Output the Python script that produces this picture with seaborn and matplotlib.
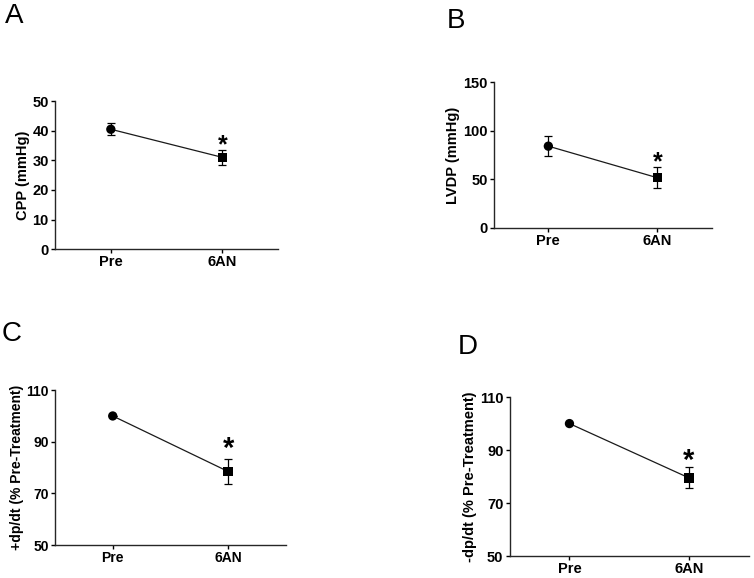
import numpy as np
import pandas as pd
import matplotlib
matplotlib.use('Agg')
import matplotlib.pyplot as plt
import seaborn as sns

# Data

groups = ['Pre', '6AN']

cpp_mean = [40.5, 31.0]
cpp_err = [2.0, 2.5]

lvdp_mean = [84.0, 51.5]
lvdp_err = [10.5, 11.0]

pos_dpdt_mean = [100.0, 78.5]
pos_dpdt_err = [0.0, 5.0]

neg_dpdt_mean = [100.0, 79.5]
neg_dpdt_err = [0.0, 4.0]

# Style

sns.set_style('ticks')
plt.rcParams['font.family'] = ['Liberation Sans', 'DejaVu Sans']
plt.rcParams['axes.linewidth'] = 1.0
plt.rcParams['text.color'] = 'black'
plt.rcParams['axes.labelcolor'] = 'black'

fig = plt.figure(figsize=(7.54, 5.78), dpi=100)

panels = [
    # letter, mean, err, ylabel, yticks, axes rect, letter pos, font size, star size, star offset
    ('A', cpp_mean, cpp_err, 'CPP (mmHg)', [0, 10, 20, 30, 40, 50],
     [0.073, 0.569, 0.296, 0.256], (0.007, 0.994), 10.5, 18, -1.5),
    ('B', lvdp_mean, lvdp_err, 'LVDP (mmHg)', [0, 50, 100, 150],
     [0.655, 0.606, 0.289, 0.252], (0.592, 0.986), 10.5, 18, -1.5),
    ('C', pos_dpdt_mean, pos_dpdt_err, '+dp/dt (% Pre-Treatment)', [50, 70, 90, 110],
     [0.073, 0.057, 0.306, 0.268], (0.002, 0.445), 10, 21, 1.0),
    ('D', neg_dpdt_mean, neg_dpdt_err, '-dp/dt (% Pre-Treatment)', [50, 70, 90, 110],
     [0.676, 0.038, 0.317, 0.275], (0.607, 0.422), 10.5, 21, -1.5),
]

for letter, mean, err, ylabel, yticks, rect, lpos, fs, star_fs, star_off in panels:
    ax = fig.add_axes(rect)
    df = pd.DataFrame({'group': groups, 'value': mean, 'err': err})

    sns.lineplot(data=df, x='group', y='value', color='#1a1a1a',
                 linewidth=0.9, sort=False, ax=ax)
    ax.errorbar(df['group'], df['value'], yerr=df['err'], fmt='none',
                ecolor='black', elinewidth=0.9, capsize=3, capthick=0.9, zorder=3)
    sns.scatterplot(data=df, x='group', y='value', style='group',
                    markers={'Pre': 'o', '6AN': 's'}, s=45, color='black',
                    edgecolor='black', linewidth=0, legend=False, zorder=4, ax=ax)

    # significance star
    ax.annotate('*', xy=(1, mean[1] + err[1]), xytext=(0, star_off),
                textcoords='offset points', ha='center', va='baseline',
                fontsize=star_fs, fontweight='bold')

    ax.set_xlim(-0.5, 1.5)
    ax.set_ylim(yticks[0], yticks[-1])
    ax.set_yticks(yticks)
    ax.set_xlabel('')
    ax.set_ylabel(ylabel, fontsize=fs, fontweight='bold', labelpad=2)
    ax.tick_params(axis='both', direction='out', length=3, width=1,
                   labelsize=fs, pad=1.5, colors='black')
    for lab in ax.get_xticklabels() + ax.get_yticklabels():
        lab.set_fontweight('bold')
    sns.despine(ax=ax)

    fig.text(lpos[0], lpos[1], letter, fontsize=20, ha='left', va='top',
             color='black')

fig.savefig('out.png', dpi=100)
